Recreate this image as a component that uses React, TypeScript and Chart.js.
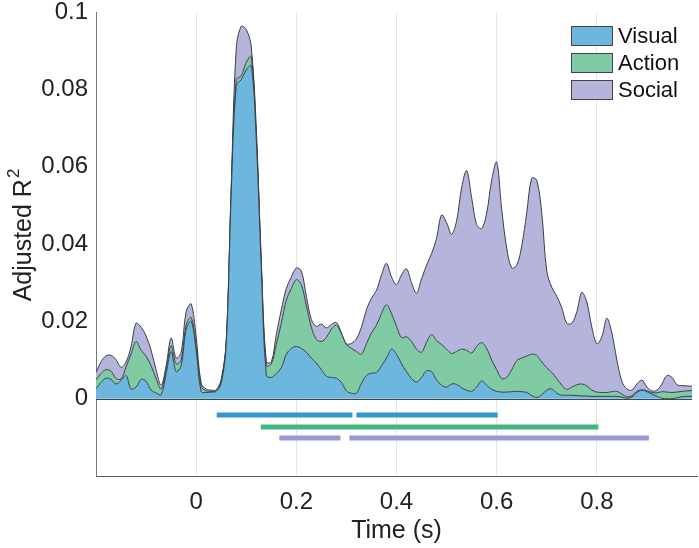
import React, { useEffect, useRef } from 'react';
import { Chart, registerables } from 'chart.js';

Chart.register(...registerables);

const times = [
  -0.2, -0.19, -0.18, -0.17, -0.16, -0.15, -0.14, -0.13, -0.12, -0.11,
  -0.1, -0.09, -0.08, -0.07, -0.06, -0.05, -0.04, -0.03, -0.02, -0.01,
  0.0, 0.01, 0.02, 0.03, 0.04, 0.05, 0.06, 0.07, 0.08, 0.09,
  0.1, 0.11, 0.12, 0.13, 0.14, 0.15, 0.16, 0.17, 0.18, 0.19,
  0.2, 0.21, 0.22, 0.23, 0.24, 0.25, 0.26, 0.27, 0.28, 0.29,
  0.3, 0.31, 0.32, 0.33, 0.34, 0.35, 0.36, 0.37, 0.38, 0.39,
  0.4, 0.41, 0.42, 0.43, 0.44, 0.45, 0.46, 0.47, 0.48, 0.49,
  0.5, 0.51, 0.52, 0.53, 0.54, 0.55, 0.56, 0.57, 0.58, 0.59,
  0.6, 0.61, 0.62, 0.63, 0.64, 0.65, 0.66, 0.67, 0.68, 0.69,
  0.7, 0.71, 0.72, 0.73, 0.74, 0.75, 0.76, 0.77, 0.78, 0.79,
  0.8, 0.81, 0.82, 0.83, 0.84, 0.85, 0.86, 0.87, 0.88, 0.89,
  0.9, 0.91, 0.92, 0.93, 0.94, 0.95, 0.96, 0.97, 0.98, 0.99,
];

const visual = [
  0.0026, 0.0042, 0.0053, 0.005, 0.0038, 0.0047, 0.006, 0.0025, 0.003, 0.005,
  0.0045, 0.0022, 0.0015, 0.001, 0.0065, 0.0122, 0.007, 0.0085, 0.018, 0.02,
  0.0125, 0.0018, 0.0016, 0.0017, 0.0019, 0.004, 0.014, 0.053, 0.081, 0.0825,
  0.085, 0.0862, 0.067, 0.034, 0.006, 0.0055, 0.0065, 0.008, 0.0115, 0.013,
  0.0135, 0.013, 0.012, 0.0105, 0.0092, 0.0075, 0.0058, 0.0055, 0.0053, 0.0042,
  0.002, 0.0014, 0.0014, 0.004, 0.006, 0.0066, 0.0068, 0.0085, 0.0105, 0.0128,
  0.0115, 0.009, 0.007, 0.0052, 0.0043, 0.0055, 0.0072, 0.007, 0.0048, 0.0035,
  0.003, 0.0038, 0.0037, 0.0028, 0.0022, 0.0019, 0.003, 0.0046, 0.0035, 0.0024,
  0.0019, 0.0017, 0.0017, 0.0018, 0.0019, 0.0018, 0.0016, 0.0008, 0.0003, 0.001,
  0.0022, 0.0025, 0.0014, 0.0009, 0.0009, 0.0009, 0.0008, 0.0007, 0.0007, 0.0006,
  0.0006, 0.0006, 0.0006, 0.0006, 0.0006, 0.0004, 0.0001, 0.0004, 0.0016, 0.0022,
  0.0018, 0.0012, 0.0006, 0.0001, 0.0, 0.0, 0.0002, 0.0005, 0.0006, 0.0006,
];

const action = [
  0.0023, 0.0023, 0.0022, 0.0021, 0.0014, 0.0004, 0.0022, 0.009, 0.0118, 0.0075,
  0.0065, 0.0063, 0.0037, 0.0015, 0.001, 0.0015, 0.002, 0.0015, 0.001, 0.001,
  0.001, 0.0014, 0.0004, 0.0002, 0.0, 0.0005, 0.0005, 0.001, 0.0015, 0.001,
  0.002, 0.0023, 0.001, 0.001, 0.0025, 0.0035, 0.0075, 0.0115, 0.014, 0.0155,
  0.0173, 0.0165, 0.012, 0.008, 0.0061, 0.0073, 0.01, 0.0125, 0.0137, 0.0126,
  0.012, 0.0116, 0.0108, 0.0075, 0.0082, 0.0104, 0.0122, 0.0135, 0.0138, 0.0092,
  0.0072, 0.0068, 0.009, 0.0096, 0.0085, 0.0065, 0.0074, 0.0096, 0.0102, 0.0105,
  0.0098, 0.0079, 0.0085, 0.01, 0.0103, 0.0099, 0.0105, 0.0099, 0.0095, 0.0076,
  0.0056, 0.0035, 0.0038, 0.0057, 0.0079, 0.0087, 0.0094, 0.0107, 0.0109, 0.0085,
  0.0058, 0.0043, 0.0038, 0.0026, 0.0015, 0.0021, 0.0028, 0.0031, 0.0026, 0.0016,
  0.0011, 0.001, 0.001, 0.0012, 0.0013, 0.0008, 0.0004, 0.0004, 0.0003, 0.0001,
  0.0002, 0.0004, 0.0009, 0.0017, 0.0017, 0.0016, 0.0015, 0.0014, 0.0014, 0.0015,
];

const social = [
  0.0019, 0.003, 0.0036, 0.0041, 0.0049, 0.003, 0.0013, 0.002, 0.0047, 0.006,
  0.0052, 0.004, 0.0023, 0.001, 0.001, 0.002, 0.0015, 0.002, 0.0035, 0.0035,
  0.0025, 0.0008, 0.0005, 0.0003, 0.0004, 0.0005, 0.0005, 0.001, 0.008, 0.0128,
  0.0085, 0.0025, 0.002, 0.001, 0.001, 0.0005, 0.0025, 0.0035, 0.003, 0.003,
  0.003, 0.0035, 0.0025, 0.002, 0.0034, 0.0045, 0.0025, 0.0012, 0.0007, 0.0002,
  0.0002, 0.0013, 0.0033, 0.007, 0.0088, 0.009, 0.009, 0.01, 0.0107, 0.0095,
  0.0108, 0.0162, 0.0176, 0.0152, 0.0145, 0.019, 0.0199, 0.0209, 0.0265, 0.0335,
  0.0327, 0.0308, 0.0338, 0.0417, 0.0465, 0.0402, 0.0315, 0.0295, 0.035, 0.0465,
  0.0537, 0.0438, 0.0335, 0.0263, 0.0247, 0.029, 0.037, 0.0455, 0.0453, 0.0385,
  0.025, 0.022, 0.0213, 0.02, 0.0171, 0.0165, 0.0189, 0.0237, 0.0217, 0.0163,
  0.0125, 0.0144, 0.0192, 0.0152, 0.0081, 0.0033, 0.002, 0.0014, 0.0019, 0.0025,
  0.001, 0.0004, 0.0007, 0.002, 0.0043, 0.0039, 0.0019, 0.0015, 0.0013, 0.0011,
];

const seriesNames = ['Visual', 'Action', 'Social'];
const fillColors = ['#6db6dd', '#80cba3', '#b5b4dc'];
const sigColors = ['#3097d3', '#40b77b', '#9a98d1'];

// significance intervals (s) and which series they belong to
const sigStart = [0.041, 0.32, 0.129, 0.166, 0.306];
const sigEnd = [0.312, 0.602, 0.803, 0.288, 0.904];
const sigSeries = [0, 0, 1, 2, 2];
const sigLevel = [-0.0042, -0.0042, -0.0073, -0.0102, -0.0102];

const yTitleMain = 'Adjusted R';
const yTitleSup = '2';
const xTitle = 'Time (s)';

const FONT = '"Liberation Sans", Arial, Helvetica, sans-serif';

export default function App() {
  const ref = useRef<HTMLCanvasElement>(null);

  useEffect(() => {
    const canvas = ref.current;
    if (!canvas) return;

    const areaSets = [visual, action, social].map((vals, i) => ({
      type: 'line' as const,
      label: seriesNames[i],
      data: times.map((t, k) => ({ x: t, y: vals[k] })),
      backgroundColor: fillColors[i],
      borderColor: '#3a3f45',
      borderWidth: 1,
      fill: i === 0 ? 'origin' : '-1',
      pointRadius: 0,
      tension: 0.35,
    }));

    const sigSets = sigStart.map((s, j) => ({
      type: 'line' as const,
      label: '',
      stack: 'sig' + j,
      data: [
        { x: s, y: sigLevel[j] },
        { x: sigEnd[j], y: sigLevel[j] },
      ],
      borderColor: sigColors[sigSeries[j]],
      borderWidth: 5,
      borderCapStyle: 'butt' as const,
      pointRadius: 0,
      tension: 0,
      fill: false,
    }));

    const overlay = {
      id: 'overlay',
      afterDatasetsDraw(chart: any) {
        const { ctx, scales, chartArea } = chart;
        const x = scales.x;
        const y = scales.y;
        const y0 = Math.round(y.getPixelForValue(0)) + 0.5;
        ctx.save();
        ctx.strokeStyle = '#3d4650';
        ctx.lineWidth = 1;
        ctx.beginPath();
        ctx.moveTo(x.getPixelForValue(times[0]), y0);
        ctx.lineTo(x.getPixelForValue(times[times.length - 1]), y0);
        ctx.stroke();

        // legend
        const sw = 42;
        const sh = 20;
        const rowH = 27;
        const lx = chartArea.right - 126;
        const ly = chartArea.top + 14;
        ctx.font = `22px ${FONT}`;
        ctx.textBaseline = 'middle';
        ctx.textAlign = 'left';
        seriesNames.forEach((name, i) => {
          const top = ly + i * rowH;
          ctx.fillStyle = fillColors[i];
          ctx.fillRect(lx, top, sw, sh);
          ctx.strokeStyle = '#444';
          ctx.lineWidth = 1;
          ctx.strokeRect(lx + 0.5, top + 0.5, sw - 1, sh - 1);
          ctx.fillStyle = '#111';
          ctx.fillText(name, lx + sw + 5, top + sh / 2 + 1);
        });

        // y axis title with superscript
        const mainFont = `25px ${FONT}`;
        const supFont = `17px ${FONT}`;
        ctx.font = mainFont;
        const w1 = ctx.measureText(yTitleMain).width;
        ctx.font = supFont;
        const w2 = ctx.measureText(yTitleSup).width;
        const total = w1 + w2 + 1;
        ctx.translate(22, 235);
        ctx.rotate(-Math.PI / 2);
        ctx.fillStyle = '#222';
        ctx.textBaseline = 'alphabetic';
        ctx.font = mainFont;
        ctx.fillText(yTitleMain, -total / 2, 9);
        ctx.font = supFont;
        ctx.fillText(yTitleSup, -total / 2 + w1 + 1, -3);
        ctx.restore();
      },
    };

    const chart = new Chart(canvas, {
      type: 'line',
      data: { datasets: [...areaSets, ...sigSets] as any },
      options: {
        responsive: false,
        animation: false,
        devicePixelRatio: 1,
        layout: { padding: { top: 12, right: 2, left: 0, bottom: 0 } },
        plugins: {
          legend: { display: false },
          tooltip: { enabled: false },
        },
        scales: {
          x: {
            type: 'linear',
            min: -0.2,
            max: 1.0,
            ticks: {
              stepSize: 0.2,
              padding: 12,
              color: '#222',
              font: { family: FONT, size: 24 },
              maxRotation: 0,
              autoSkip: false,
              callback: (v: any) => {
                const n = Number(v);
                if (n < -0.1 || n > 0.9) return '';
                return Number(n.toFixed(1)).toString();
              },
            },
            grid: {
              drawTicks: false,
              lineWidth: 1,
              color: (c: any) => {
                const v = c.tick ? c.tick.value : 0;
                if (v < -0.1 || v > 0.9) return 'rgba(0,0,0,0)';
                return '#e6e6e6';
              },
            },
            border: { display: true, color: '#5a5a5a', width: 1 },
            title: {
              display: true,
              text: xTitle,
              color: '#222',
              font: { family: FONT, size: 25 },
              padding: { top: 0, bottom: 2 },
            },
            afterFit: (s: any) => {
              s.height = 72;
              s.paddingLeft = 0;
              s.paddingRight = 0;
            },
          },
          y: {
            stacked: true,
            min: -0.02,
            max: 0.1,
            ticks: {
              stepSize: 0.02,
              padding: 8,
              color: '#222',
              font: { family: FONT, size: 24 },
              callback: (v: any) => {
                const n = Number(v);
                if (n < -0.001) return '';
                return Number(n.toFixed(2)).toString();
              },
            },
            grid: { display: false, drawTicks: false },
            border: { display: true, color: '#777', width: 1 },
            title: { display: false },
            afterFit: (s: any) => {
              s.width = 96;
              s.paddingTop = 0;
              s.paddingBottom = 0;
            },
          },
        },
      },
      plugins: [overlay],
    });

    return () => chart.destroy();
  }, []);

  return (
    <div style={{ position: 'absolute', left: 0, top: 0, width: 699, height: 548, background: '#fff' }}>
      <canvas ref={ref} width={699} height={548} style={{ width: 699, height: 548, display: 'block' }} />
    </div>
  );
}
